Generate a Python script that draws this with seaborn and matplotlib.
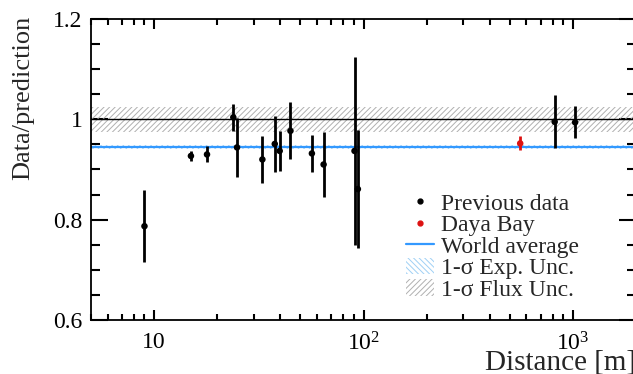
import numpy as np
import pandas as pd
import matplotlib
matplotlib.use('Agg')
import matplotlib.pyplot as plt
import matplotlib.ticker as mticker
from matplotlib.lines import Line2D
from matplotlib.patches import Patch
import seaborn as sns

# 이전 원자로 실험 데이터 (거리[m], data/prediction, 오차)
prev_dist = [9.0, 15.0, 17.9, 23.9, 24.9, 32.9, 37.7, 39.8, 44.8, 56.7, 64.5, 90.6, 94.0, 818, 1024]
prev_ratio = [0.787, 0.927, 0.930, 1.004, 0.944, 0.920, 0.951, 0.937, 0.977, 0.932, 0.910, 0.937, 0.861, 0.995, 0.994]
prev_err = [0.072, 0.010, 0.016, 0.027, 0.059, 0.047, 0.056, 0.039, 0.057, 0.0375, 0.065, 0.187, 0.118, 0.053, 0.032]

# Daya Bay 결과
dyb_dist = [560]
dyb_ratio = [0.952]
dyb_err = [0.014]

world_avg = 0.945
world_unc = 0.004
flux_unc = 0.025

sns.set_style('ticks')
plt.rcParams['font.family'] = ['Liberation Serif', 'DejaVu Serif']
plt.rcParams['mathtext.fontset'] = 'custom'
plt.rcParams['mathtext.rm'] = 'Liberation Serif'
plt.rcParams['hatch.linewidth'] = 0.7

prev = pd.DataFrame({'dist': prev_dist, 'ratio': prev_ratio, 'err': prev_err})
dyb = pd.DataFrame({'dist': dyb_dist, 'ratio': dyb_ratio, 'err': dyb_err})

fig = plt.figure(figsize=(6.33, 3.74), dpi=100)
ax = fig.add_axes([91 / 633, 1 - 320 / 374, 545 / 633, 301 / 374])

xmin, xmax = 5, 2000
xs = [xmin, xmax]
# 1-sigma flux 불확도 (회색 빗금)
ax.fill_between(xs, 1 - flux_unc, 1 + flux_unc, facecolor='none',
                edgecolor='#b0b0b0', hatch='//////', linewidth=0, zorder=1)
# 1-sigma 실험 불확도 (파란 빗금)
ax.fill_between(xs, world_avg - world_unc, world_avg + world_unc, facecolor='none',
                edgecolor='#9fd0f5', hatch='\\\\\\\\\\\\', linewidth=0, zorder=1)
ax.plot(xs, [1, 1], color='black', lw=1.0, zorder=2)
ax.plot(xs, [world_avg, world_avg], color='#3399ff', lw=1.6, zorder=2)

ax.errorbar(prev['dist'], prev['ratio'], yerr=prev['err'], fmt='none',
            ecolor='black', elinewidth=2.0, capsize=0, zorder=3)
ax.errorbar(dyb['dist'], dyb['ratio'], yerr=dyb['err'], fmt='none',
            ecolor='#dd1111', elinewidth=2.0, capsize=0, zorder=3)
sns.scatterplot(data=prev, x='dist', y='ratio', ax=ax, color='black', s=22,
                edgecolor='none', zorder=4, legend=False)
sns.scatterplot(data=dyb, x='dist', y='ratio', ax=ax, color='#dd1111', s=22,
                edgecolor='none', zorder=4, legend=False)

ax.set_xscale('log')
ax.set_xlim(xmin, xmax)
ax.set_ylim(0.6, 1.2)

ax.xaxis.set_major_locator(mticker.FixedLocator([10, 100, 1000]))
ax.xaxis.set_major_formatter(mticker.FixedFormatter(['10', r'$\mathdefault{10^{2}}$', r'$\mathdefault{10^{3}}$']))
ax.xaxis.set_minor_locator(mticker.LogLocator(base=10, subs=np.arange(2, 10)))
ax.xaxis.set_minor_formatter(mticker.NullFormatter())
ax.yaxis.set_major_locator(mticker.FixedLocator([0.6, 0.8, 1.0, 1.2]))
ax.yaxis.set_major_formatter(mticker.FixedFormatter(['0.6', '0.8', '1', '1.2']))
ax.yaxis.set_minor_locator(mticker.MultipleLocator(0.05))

ax.tick_params(axis='both', which='both', direction='in', top=True, right=True,
               width=1.5, colors='black', labelsize=17)
ax.tick_params(axis='x', which='major', length=7, pad=9)
ax.tick_params(axis='x', which='minor', length=4)
ax.tick_params(axis='y', which='major', length=12, pad=6)
ax.tick_params(axis='y', which='minor', length=6.5)
for sp in ax.spines.values():
    sp.set_linewidth(1.3)
    sp.set_color('black')

ax.set_xlabel('Distance [m]', fontsize=21)
ax.xaxis.set_label_coords(1.0, -0.142)
ax.xaxis.label.set_ha('right')
ax.xaxis.label.set_va('center')
ax.set_ylabel('Data/prediction', fontsize=19)
ax.yaxis.set_label_coords(-0.125, 0.739)
ax.yaxis.label.set_va('center')

handles = [
    Line2D([], [], ls='none', marker='o', color='black', markersize=3.5),
    Line2D([], [], ls='none', marker='o', color='#dd1111', markersize=3.5),
    Line2D([], [], color='#3399ff', lw=1.6),
    Patch(facecolor='none', edgecolor='#9fd0f5', hatch='\\\\\\\\\\\\', linewidth=0),
    Patch(facecolor='none', edgecolor='#b0b0b0', hatch='//////', linewidth=0),
]
labels = ['Previous data', 'Daya Bay', 'World average',
          '1-\u03c3 Exp. Unc.', '1-\u03c3 Flux Unc.']
ax.legend(handles, labels, loc='upper left', bbox_to_anchor=(0.578, 0.422),
          frameon=False, fontsize=17, handlelength=1.2, handletextpad=0.3,
          labelspacing=0.0, borderpad=0, borderaxespad=0)

fig.savefig('out.png', dpi=100)
